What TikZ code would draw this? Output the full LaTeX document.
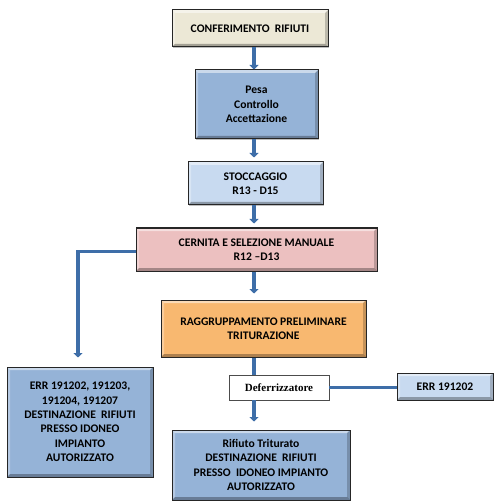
\documentclass[tikz,border=0pt]{standalone}
\usepackage{fontspec}
\setmainfont{Carlito}[BoldFont={Carlito Bold}]
\newfontfamily\timesbold{Liberation Serif}[BoldFont={Liberation Serif Bold}]
\usetikzlibrary{arrows.meta,shadows}

\definecolor{flowblue}{RGB}{62,110,168}
\definecolor{beige}{RGB}{236,232,214}
\definecolor{midblue}{RGB}{149,179,215}
\definecolor{paleblue}{RGB}{200,218,240}
\definecolor{pinkbox}{RGB}{236,192,192}
\definecolor{orangebox}{RGB}{248,184,112}

% bevelled edges: light top/left, dark bottom/right
\newcommand\boxbevel{%
  \fill[white,opacity=0.5] (path picture bounding box.north west) -- (path picture bounding box.north east)
    -- ([shift={(-3pt,-3pt)}]path picture bounding box.north east) -- ([shift={(3pt,-3pt)}]path picture bounding box.north west) -- cycle;
  \fill[white,opacity=0.3] (path picture bounding box.north west) -- ([shift={(3pt,-3pt)}]path picture bounding box.north west)
    -- ([shift={(3pt,3pt)}]path picture bounding box.south west) -- (path picture bounding box.south west) -- cycle;
  \fill[black,opacity=0.3] (path picture bounding box.south west) -- (path picture bounding box.south east)
    -- ([shift={(-3pt,3pt)}]path picture bounding box.south east) -- ([shift={(3pt,3pt)}]path picture bounding box.south west) -- cycle;
  \fill[black,opacity=0.2] (path picture bounding box.north east) -- (path picture bounding box.south east)
    -- ([shift={(-3pt,3pt)}]path picture bounding box.south east) -- ([shift={(-3pt,-3pt)}]path picture bounding box.north east) -- cycle;
}

\tikzset{
  box/.style={draw=black!85, line width=1pt, align=center, inner sep=0pt,
    font=\bfseries\fontsize{11.6}{14.4}\selectfont,
    drop shadow={shadow xshift=1.2pt, shadow yshift=-1.2pt, fill=black, opacity=0.25},
    path picture={\boxbevel}},
  plainbox/.style={draw=black!70, line width=0.6pt, fill=white, inner sep=0pt,
    font=\timesbold\bfseries\fontsize{11}{12}\selectfont},
  link/.style={draw=flowblue, line width=3.6pt},
  flow/.style={link, -{Triangle[width=9pt,length=4.5pt]}, shorten >=4pt},
}

\begin{document}
\begin{tikzpicture}[x=1pt,y=-1pt]
  \useasboundingbox (0,0) rectangle (496,502);
  \coordinate (ax) at (254,0);
  \coordinate (lx) at (78,0);

  \node[box, fill=beige, minimum width=156, minimum height=37] (conf) at (250,28.5)
    {CONFERIMENTO\ \ RIFIUTI};
  \node[box, fill=midblue, minimum width=123, minimum height=69] (pesa) at (256.5,104.5)
    {Pesa\\Controllo\\Accettazione};
  \node[box, fill=paleblue, minimum width=135, minimum height=43] (stocc) at (255.5,183.5)
    {STOCCAGGIO\\R13 - D15};
  \node[box, fill=pinkbox, minimum width=241, minimum height=43] (cern) at (256.5,249.5)
    {CERNITA E SELEZIONE MANUALE\\R12 –D13};
  \node[box, fill=orangebox, minimum width=205, minimum height=57] (ragg) at (263.5,328.5)
    {RAGGRUPPAMENTO PRELIMINARE\\TRITURAZIONE};
  \node[box, fill=midblue, minimum width=146, minimum height=110] (errL) at (80,422)
    {ERR 191202, 191203,\\191204, 191207\\DESTINAZIONE\ \ RIFIUTI\\PRESSO IDONEO\\IMPIANTO\\AUTORIZZATO};
  \node[plainbox, minimum width=100, minimum height=25] (defer) at (279,387.5) {Deferrizzatore};
  \node[box, fill=paleblue, minimum width=96, minimum height=27] (errR) at (445,386.5) {ERR 191202};
  \node[box, fill=midblue, minimum width=178, minimum height=70] (fin) at (261,465)
    {Rifiuto Triturato\\DESTINAZIONE\ \ RIFIUTI\\PRESSO\ \ IDONEO IMPIANTO\\AUTORIZZATO};

  % main flow
  \draw[flow, shorten >=0pt] (conf.south -| ax) -- (pesa.north -| ax);
  \draw[flow] (pesa.south -| ax) -- (stocc.north -| ax);
  \draw[flow] (stocc.south -| ax) -- (cern.north -| ax);
  \draw[flow, shorten >=6pt] (cern.south -| ax) -- (ragg.north -| ax);
  \draw[link] (ragg.south -| ax) -- (defer.north -| ax);
  \draw[flow, shorten >=8pt] (defer.south -| ax) -- (fin.north -| ax);
  % side branches
  \draw[flow, shorten >=9pt] ([yshift=-2pt]cern.west) -| (errL.north -| lx);
  \draw[link] (defer.east) -- (errR.west |- defer.east);
\end{tikzpicture}
\end{document}
